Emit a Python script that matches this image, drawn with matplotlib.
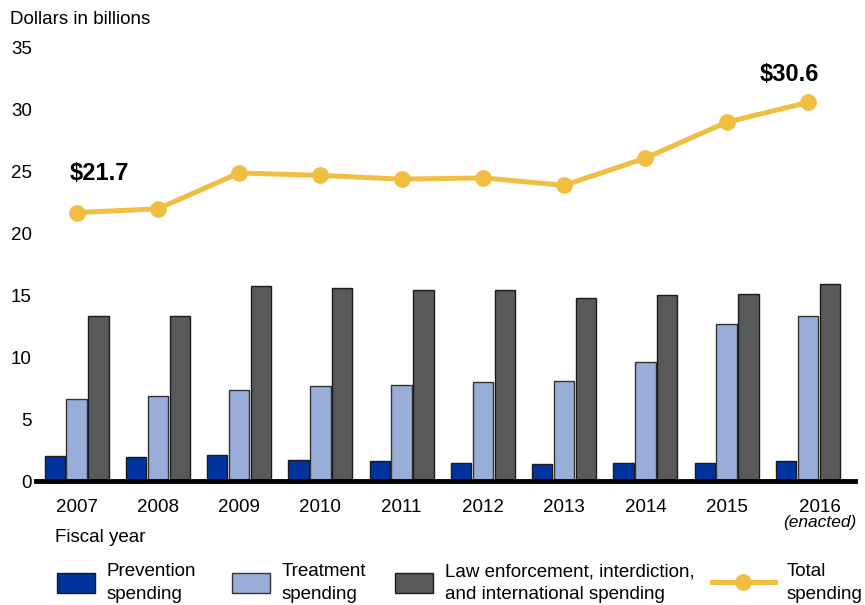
import numpy as np
import matplotlib
matplotlib.use("Agg")
import matplotlib.pyplot as plt
from matplotlib.patches import Rectangle
from matplotlib.lines import Line2D
from matplotlib.transforms import ScaledTranslation

plt.rcParams['font.family'] = ['Liberation Sans', 'DejaVu Sans']

years = ["2007", "2008", "2009", "2010", "2011", "2012", "2013", "2014", "2015", "2016"]
prevention = [2.0, 1.9, 2.1, 1.7, 1.6, 1.45, 1.4, 1.45, 1.45, 1.6]
treatment = [6.6, 6.9, 7.35, 7.7, 7.8, 8.0, 8.1, 9.6, 12.7, 13.3]
law = [13.3, 13.3, 15.8, 15.6, 15.4, 15.4, 14.8, 15.0, 15.1, 15.9]
total = [21.7, 22.0, 24.9, 24.7, 24.4, 24.5, 23.9, 26.1, 29.0, 30.6]

c_prev = "#0033a0"
c_treat = "#98aed8"
c_law = "#58595b"
c_total = "#f0be41"

W, H = 865, 605
fig = plt.figure(figsize=(W / 100, H / 100), dpi=100)
ax = fig.add_axes([36 / W, 1 - 481 / H, (855 - 36) / W, (481 - 48) / H])

x = np.arange(len(years))
bw = 0.25
off = 0.27
ax.bar(x - off, prevention, bw, color=c_prev, edgecolor="#1a1a1a", linewidth=1, zorder=2)
ax.bar(x, treatment, bw, color=c_treat, edgecolor="#333333", linewidth=1, zorder=2)
ax.bar(x + off, law, bw, color=c_law, edgecolor="#1a1a1a", linewidth=1, zorder=2)
ax.plot(x, total, color=c_total, lw=3.6, marker="o", ms=11, zorder=4)

ax.annotate(r"\$21.7", (x[0], total[0]), xytext=(-5, 28), textcoords="offset points",
            ha="left", va="center", fontsize=17, fontweight="bold")
ax.annotate(r"\$30.6", (x[-1], total[-1]), xytext=(-13, 20), textcoords="offset points",
            ha="center", va="center", fontsize=17, fontweight="bold")

ax.set_xlim(-0.5, 9.58)
ax.set_ylim(0, 35)
ax.set_yticks(range(0, 36, 5))
ax.set_xticks(x)
ax.set_xticklabels(years)
ax.tick_params(axis="both", length=0, labelsize=13.5)
ax.tick_params(axis="y", pad=3)
ax.tick_params(axis="x", pad=13)
for s in ["top", "right", "left", "bottom"]:
    ax.spines[s].set_visible(False)
ax.axhline(0, color="black", lw=3.5, zorder=5, clip_on=False)

last = ax.get_xticklabels()[-1]
last.set_transform(last.get_transform() + ScaledTranslation(12 / 100, 0, fig.dpi_scale_trans))

def fx(px):
    return px / W

def fy(py):
    return 1 - py / H

fig.text(fx(820), fy(523), "(enacted)", ha="center", va="center", fontsize=12.5, style="italic")
fig.text(fx(10), fy(20), "Dollars in billions", ha="left", va="center", fontsize=13.5)
fig.text(fx(55), fy(537), "Fiscal year", ha="left", va="center", fontsize=13.5)

# legend
for (x0, x1), col, ec in [((57, 95), c_prev, "#1a1a1a"), ((232, 270), c_treat, "#333333"),
                          ((395, 433), c_law, "#1a1a1a")]:
    fig.add_artist(Rectangle((fx(x0), fy(593)), (x1 - x0) / W, 20 / H,
                             transform=fig.transFigure, facecolor=col, edgecolor=ec, lw=1))
fig.add_artist(Line2D([fx(712), fx(775)], [fy(582), fy(582)], transform=fig.transFigure,
                      color=c_total, lw=3.6))
fig.add_artist(Line2D([fx(743)], [fy(582)], transform=fig.transFigure, color=c_total,
                      marker="o", ms=11))
for px, label in [(107, "Prevention\nspending"), (282, "Treatment\nspending"),
                  (445, "Law enforcement, interdiction,\nand international spending"),
                  (787, "Total\nspending")]:
    fig.text(fx(px), fy(583), label, ha="left", va="center", fontsize=13.5, linespacing=1.4)

fig.savefig("out.png", dpi=100)
